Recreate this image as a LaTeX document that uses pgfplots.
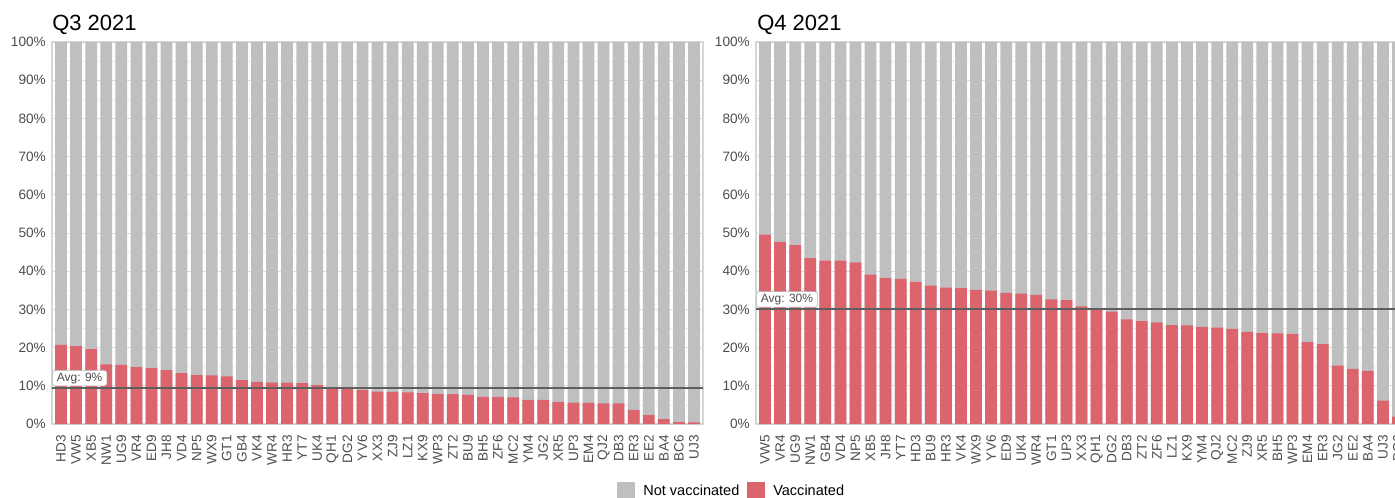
\documentclass[border=0pt]{standalone}
\usepackage{fontspec}
\setmainfont{Liberation Sans}
\usepackage{pgfplots}
\usepackage{pgfplotstable}
\pgfplotsset{compat=1.18}

\definecolor{vacc}{HTML}{DC656D}
\definecolor{notvacc}{HTML}{BFBFBF}
\definecolor{avgline}{HTML}{5E5E5E}
\definecolor{tickgrey}{HTML}{4D4D4D}

% share vaccinated (%) per site, Q3 2021
\pgfplotstableread{
name v all
HD3 20.7 100
VW5 20.4 100
XB5 19.6 100
NW1 15.6 100
UG9 15.5 100
VR4 14.9 100
ED9 14.6 100
JH8 14.1 100
VD4 13.3 100
NP5 12.8 100
WX9 12.7 100
GT1 12.5 100
GB4 11.5 100
VK4 11.0 100
WR4 10.8 100
HR3 10.8 100
YT7 10.7 100
UK4 10.2 100
QH1 9.5 100
DG2 9.2 100
YV6 8.9 100
XX3 8.5 100
ZJ9 8.4 100
LZ1 8.3 100
KX9 8.1 100
WP3 7.9 100
ZT2 7.8 100
BU9 7.6 100
BH5 7.1 100
ZF6 7.1 100
MC2 7.0 100
YM4 6.3 100
JG2 6.3 100
XR5 5.8 100
UP3 5.6 100
EM4 5.5 100
QJ2 5.4 100
DB3 5.4 100
ER3 3.7 100
EE2 2.3 100
BA4 1.3 100
BC6 0.5 100
UJ3 0.4 100
}\qthree

% Q4 2021
\pgfplotstableread{
name v all
VW5 49.6 100
VR4 47.7 100
UG9 46.8 100
NW1 43.4 100
GB4 42.8 100
VD4 42.8 100
NP5 42.3 100
XB5 39.1 100
JH8 38.2 100
YT7 38.0 100
HD3 37.2 100
BU9 36.2 100
HR3 35.7 100
VK4 35.6 100
WX9 35.1 100
YV6 34.9 100
ED9 34.3 100
UK4 34.1 100
WR4 33.8 100
GT1 32.6 100
UP3 32.4 100
XX3 30.8 100
QH1 29.9 100
DG2 29.4 100
DB3 27.4 100
ZT2 26.9 100
ZF6 26.6 100
LZ1 25.9 100
KX9 25.8 100
YM4 25.4 100
QJ2 25.2 100
MC2 24.9 100
ZJ9 24.1 100
XR5 23.8 100
BH5 23.7 100
WP3 23.6 100
EM4 21.5 100
ER3 20.9 100
JG2 15.3 100
EE2 14.4 100
BA4 13.9 100
UJ3 6.1 100
BC6 1.9 100
}\qfour

\pgfplotsset{
  panel/.style={
    scale only axis, width=488.25pt, height=286.5pt,
    xmin=-0.6, xmax=42.6, ymin=0, ymax=100,
    ybar, bar width=0.78, bar shift=0pt,
    axis line style={draw=black!16, line width=0.9pt},
    tick style={draw=none},
    xtick={0,...,42},
    ytick={0,10,...,100}, minor ytick={5,15,...,95},
    yticklabels={0\%,10\%,20\%,30\%,40\%,50\%,60\%,70\%,80\%,90\%,100\%},
    ymajorgrids, yminorgrids,
    major grid style={draw=black!14, line width=0.75pt},
    minor grid style={draw=black!8, line width=0.5pt},
    xticklabel style={rotate=90, anchor=east, text=tickgrey,
      font=\fontsize{10.2}{12}\selectfont, inner ysep=0pt, inner xsep=4pt},
    yticklabel style={anchor=east, text=tickgrey,
      font=\fontsize{10.2}{12}\selectfont, inner ysep=0pt, inner xsep=4.5pt},
  },
}
\tikzset{
  avglabel/.style={anchor=south west, draw=black!30, fill=white,
    rounded corners=2pt, text=tickgrey, font=\fontsize{9}{10}\selectfont,
    inner xsep=3.4pt, inner ysep=1.7pt, yshift=1.5pt},
}

\begin{document}
\begin{tikzpicture}[x=0.75pt, y=0.75pt]
\useasboundingbox (0,0) rectangle (1395,497);
\clip (0,0) rectangle (1395,497);

\node[anchor=base west, inner sep=0pt, font=\fontsize{16.5}{18}\selectfont] at (52,466) {Q3 2021};
\node[anchor=base west, inner sep=0pt, font=\fontsize{16.5}{18}\selectfont] at (757,466) {Q4 2021};

\begin{axis}[panel, at={(39pt,54.75pt)}, anchor=south west,
    xticklabels from table={\qthree}{name}]
\addplot[fill=notvacc, draw=none] table[x expr=\coordindex, y=all] {\qthree};
\addplot[fill=vacc, draw=none] table[x expr=\coordindex, y=v] {\qthree};
\addplot[sharp plot, avgline, line width=1.5pt] coordinates {(-0.6,9.4) (42.6,9.4)};
\node[avglabel] at (axis cs:-0.6,9.4) {Avg: 9\%};
\end{axis}

\begin{axis}[panel, at={(567pt,54.75pt)}, anchor=south west,
    xticklabels from table={\qfour}{name}]
\addplot[fill=notvacc, draw=none] table[x expr=\coordindex, y=all] {\qfour};
\addplot[fill=vacc, draw=none] table[x expr=\coordindex, y=v] {\qfour};
\addplot[sharp plot, avgline, line width=1.5pt] coordinates {(-0.6,30.0) (42.6,30.0)};
\node[avglabel] at (axis cs:-0.6,30.0) {Avg: 30\%};
\end{axis}

% legend
\fill[notvacc] (617,-3) rectangle (635,15);
\node[anchor=base west, inner sep=0pt, font=\fontsize{10.9}{12}\selectfont] at (643,2) {Not vaccinated};
\fill[vacc] (747,-3) rectangle (765,15);
\node[anchor=base west, inner sep=0pt, font=\fontsize{10.9}{12}\selectfont] at (773,2) {Vaccinated};
\end{tikzpicture}
\end{document}
